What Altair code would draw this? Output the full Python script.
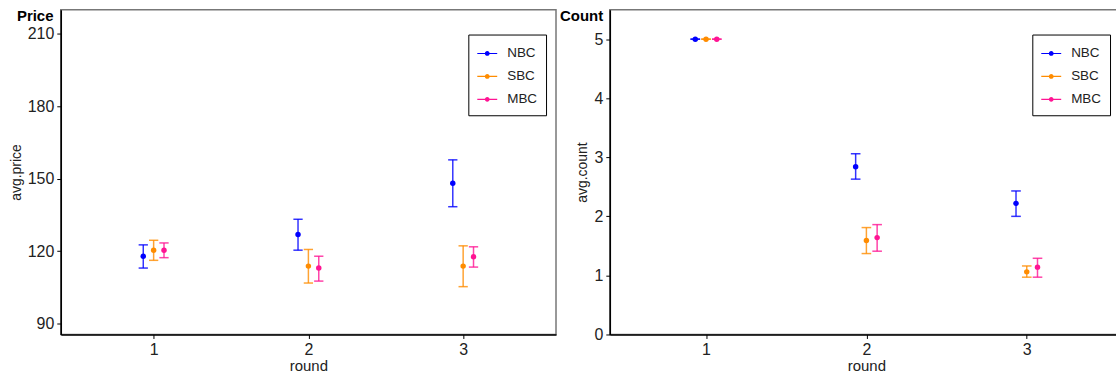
import altair as alt
import pandas as pd

rounds = [1, 2, 3]
groups = ["NBC", "SBC", "MBC"]
colors = ["#0000FF", "#FF8C00", "#FF1493"]
dodge = [-0.067, 0.0, 0.067]

# average price per round with error-bar limits
price_nbc = [117.9, 126.9, 148.1]
price_nbc_lo = [113.0, 120.4, 138.4]
price_nbc_hi = [122.6, 133.2, 157.8]
price_sbc = [120.4, 113.8, 113.8]
price_sbc_lo = [116.2, 106.8, 105.3]
price_sbc_hi = [124.5, 120.7, 122.2]
price_mbc = [120.4, 113.0, 117.7]
price_mbc_lo = [117.3, 107.6, 113.4]
price_mbc_hi = [123.4, 117.9, 121.8]

# average count per round with error-bar limits
count_nbc = [5.0, 2.84, 2.22]
count_nbc_lo = [5.0, 2.63, 2.00]
count_nbc_hi = [5.0, 3.06, 2.43]
count_sbc = [5.0, 1.59, 1.06]
count_sbc_lo = [5.0, 1.37, 0.97]
count_sbc_hi = [5.0, 1.81, 1.16]
count_mbc = [5.0, 1.64, 1.14]
count_mbc_lo = [5.0, 1.41, 0.97]
count_mbc_hi = [5.0, 1.86, 1.29]

price_ticks = [90, 120, 150, 180, 210]
count_ticks = [0, 1, 2, 3, 4, 5]

FONT = "Liberation Sans"
CAP = 0.03


def make_frame(series):
    rows = []
    for gi, (g, (mean, lo, hi)) in enumerate(zip(groups, series)):
        for ri, r in enumerate(rounds):
            x = r + dodge[gi]
            rows.append({"round": r, "group": g, "x": x,
                         "x_lo": x - CAP, "x_hi": x + CAP,
                         "mean": mean[ri], "lo": lo[ri], "hi": hi[ri]})
    return pd.DataFrame(rows)


price_df = make_frame([(price_nbc, price_nbc_lo, price_nbc_hi),
                       (price_sbc, price_sbc_lo, price_sbc_hi),
                       (price_mbc, price_mbc_lo, price_mbc_hi)])
count_df = make_frame([(count_nbc, count_nbc_lo, count_nbc_hi),
                       (count_sbc, count_sbc_lo, count_sbc_hi),
                       (count_mbc, count_mbc_lo, count_mbc_hi)])

# legend key: a short line with a dot in the middle, all drawn as fill
KEY = ("M-1,-0.06H1V0.06H-1Z "
       "M-0.24,0A0.24,0.24 0 1,1 0.24,0A0.24,0.24 0 1,1 -0.24,0Z")


def panel(df, ytitle, ydomain, yticks, xdomain, width, label, label_dx, legend_x):
    xscale = alt.Scale(domain=xdomain, nice=False, zero=False)
    yscale = alt.Scale(domain=ydomain, nice=False, zero=False)
    color = alt.Color("group:N", scale=alt.Scale(domain=groups, range=colors),
                      legend=alt.Legend(
                          title=None, orient="none", legendX=legend_x, legendY=25,
                          symbolType=KEY, symbolSize=400, symbolStrokeWidth=0,
                          symbolOpacity=1, labelFont=FONT, labelFontSize=13.5,
                          labelColor="#222", strokeColor="#000",
                          fillColor="white", padding=9, rowPadding=6,
                          labelOffset=10))
    xaxis = alt.Axis(values=rounds, format="d", title="round", grid=False,
                     labelFontSize=16, labelColor="#222", labelFont=FONT,
                     titleFont=FONT, titleFontSize=15, titleFontWeight="normal",
                     titleColor="#222", domainColor="#000", domainWidth=1.5,
                     tickColor="#000", tickSize=4, labelPadding=3, titlePadding=1)
    yaxis = alt.Axis(values=yticks, format="d", title=ytitle, grid=False,
                     labelFontSize=16, labelColor="#222", labelFont=FONT,
                     titleFont=FONT, titleFontSize=14, titleFontWeight="normal",
                     titleColor="#222", domainColor="#000", domainWidth=1.5,
                     tickColor="#000", tickSize=4, labelPadding=3, titlePadding=4)
    base = alt.Chart(df)
    bars = base.mark_rule(strokeWidth=1.5, opacity=0.8).encode(
        x=alt.X("x:Q", scale=xscale, axis=xaxis),
        y=alt.Y("lo:Q", scale=yscale, axis=yaxis),
        y2="hi:Q",
        color=color,
    )
    caps_lo = base.mark_rule(strokeWidth=1.5, opacity=0.8).encode(
        x="x_lo:Q", x2="x_hi:Q", y="lo:Q", color=color)
    caps_hi = base.mark_rule(strokeWidth=1.5, opacity=0.8).encode(
        x="x_lo:Q", x2="x_hi:Q", y="hi:Q", color=color)
    points = base.mark_point(filled=True, size=30, opacity=1).encode(
        x="x:Q", y="mean:Q", color=color)
    ttl = alt.Chart(pd.DataFrame({"t": [label]})).mark_text(
        align="left", baseline="middle", fontWeight="bold", fontSize=15,
        font=FONT, color="#000").encode(
        text="t:N", x=alt.value(label_dx), y=alt.value(6))
    return alt.layer(bars, caps_lo, caps_hi, points, ttl).properties(
        width=width, height=326)


left = panel(price_df, "avg.price", [85.5, 220], price_ticks, [0.4, 3.6], 497,
             "Price", -44, 409)
right = panel(count_df, "avg.count", [0, 5.5], count_ticks, [0.4, 3.6], 515,
              "Count", -50, 424)

# the right-hand panel runs past the page edge, so its far side is cut off
chart = alt.hconcat(left, right, spacing=2).resolve_scale(
    color="independent").resolve_legend(color="independent").configure(
    padding={"left": 8, "top": 7, "right": -8, "bottom": 0},
    background="white").configure_view(stroke="#777", strokeWidth=1.5)

chart.save("out.html", embed_options={"renderer": "svg", "actions": False})
